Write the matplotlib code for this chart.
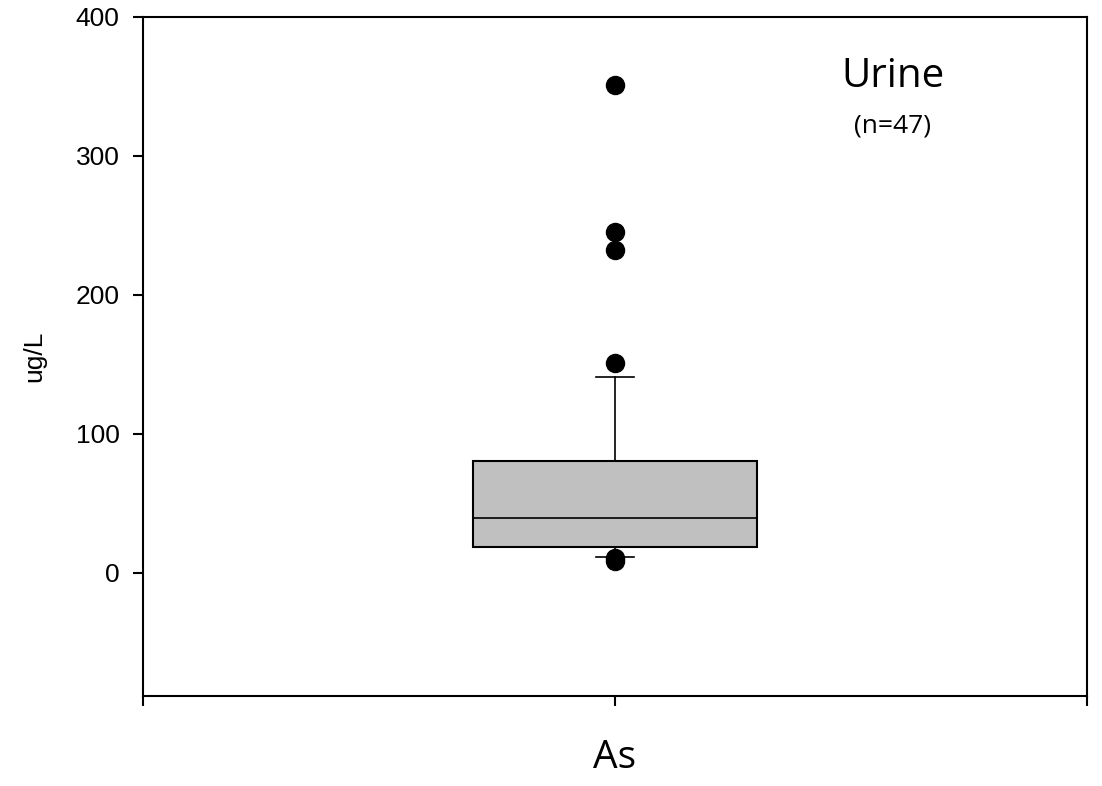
import matplotlib
matplotlib.use("Agg")
import matplotlib.pyplot as plt

# values (ug/L)
label = ["As"]
q1 = [18.5]
median = [39.5]
q3 = [80.0]
whisker_low = [11.0]
whisker_high = [141.0]
outliers = [[351, 245, 232, 151, 10.5, 8.5]]
y_ticks = [0, 100, 200, 300, 400]

plt.rcParams['font.family'] = ['Liberation Sans', 'DejaVu Sans']

fig = plt.figure(figsize=(11.02, 7.86), dpi=100)
ax = fig.add_axes([0.1298, 0.1139, 0.8566, 0.8651])

stats = []
for i in range(len(label)):
    stats.append({"label": label[i], "q1": q1[i], "med": median[i], "q3": q3[i],
                  "whislo": whisker_low[i], "whishi": whisker_high[i],
                  "fliers": outliers[i]})

ax.bxp(stats, positions=[1], widths=0.6, patch_artist=True, showfliers=True,
       boxprops=dict(facecolor="#c0c0c0", edgecolor="black", linewidth=1.5),
       medianprops=dict(color="black", linewidth=1.2),
       whiskerprops=dict(color="black", linewidth=1.2),
       capprops=dict(color="black", linewidth=1.2),
       capwidths=0.08,
       flierprops=dict(marker="o", markerfacecolor="black", markeredgecolor="black",
                       markersize=13, linestyle="none"))

ax.set_xlim(0, 2)
ax.set_ylim(-89, 400)
ax.set_yticks(y_ticks)
ax.set_xticks([0, 1, 2])
ax.set_xticklabels([])
ax.tick_params(axis="y", direction="out", length=7, width=1.5, labelsize=19, pad=10)
ax.tick_params(axis="x", direction="out", length=7, width=1.5)
for s in ax.spines.values():
    s.set_linewidth(1.5)

ax.set_ylabel("ug/L", fontsize=19)
ax.yaxis.set_label_coords(-0.103, 0.5)
ax.set_xlabel(label[0], fontsize=28, family=["Open Sans", "DejaVu Sans"], va="baseline")
ax.xaxis.set_label_coords(0.5, -0.105)

ax.text(0.794, 0.896, "Urine", transform=ax.transAxes, ha="center", va="baseline",
        fontsize=29, family=["Open Sans", "DejaVu Sans"])
ax.text(0.794, 0.830, "(n=47)", transform=ax.transAxes, ha="center", va="baseline",
        fontsize=19, family=["Open Sans", "DejaVu Sans"])

fig.savefig("out.png", dpi=100)
